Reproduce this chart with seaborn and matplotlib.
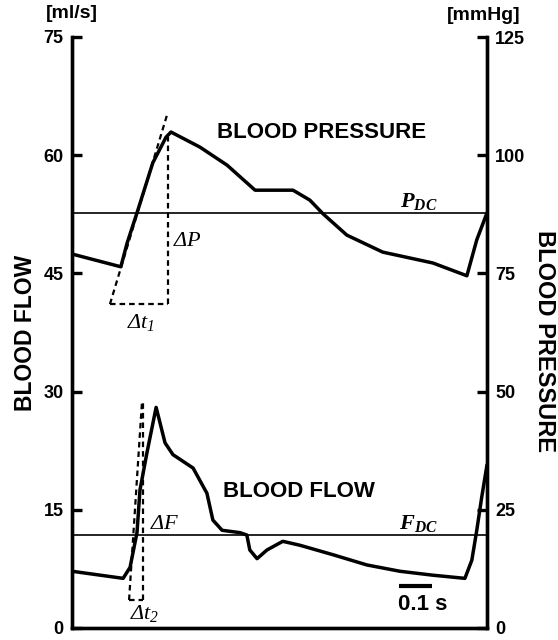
import matplotlib
matplotlib.use("Agg")
import matplotlib.pyplot as plt
import seaborn as sns
import pandas as pd
import numpy as np

# ---------------- data ----------------
# blood pressure trace (time in s, pressure in mmHg)
p_time = [0.000, 0.148, 0.167, 0.197, 0.245, 0.285, 0.300, 0.388, 0.470, 0.555,
          0.670, 0.721, 0.761, 0.833, 0.942, 1.094, 1.197, 1.227, 1.258]
p_vals = [79.1, 76.4, 81.4, 87.8, 98.4, 103.8, 104.9, 101.7, 97.9, 92.6,
          92.6, 90.5, 87.6, 83.1, 79.5, 77.2, 74.5, 82.1, 87.8]

# blood flow trace (time in s, flow in ml/s)
f_time = [0.000, 0.155, 0.176, 0.197, 0.206, 0.227, 0.255, 0.282, 0.306, 0.367,
          0.409, 0.427, 0.455, 0.509, 0.530, 0.539, 0.561, 0.591, 0.639, 0.691,
          0.791, 0.894, 0.994, 1.094, 1.191, 1.212, 1.227, 1.242, 1.258]
f_vals = [7.2, 6.3, 7.7, 12.1, 17.5, 22.2, 28.0, 23.5, 22.0, 20.3,
          17.1, 13.7, 12.4, 12.1, 11.8, 9.9, 8.8, 9.9, 11.0, 10.5,
          9.3, 8.0, 7.2, 6.7, 6.3, 8.6, 12.4, 16.6, 20.7]

p_dc = 87.8   # mmHg
f_dc = 11.8   # ml/s

# tangent construction for pressure (time, mmHg)
dp_slope_t = [0.115, 0.288]
dp_slope_v = [68.5, 108.5]
dp_vert_t = [0.291, 0.291]
dp_vert_v = [68.5, 103.8]
dp_base_t = [0.115, 0.291]
dp_base_v = [68.5, 68.5]

# tangent construction for flow (time, ml/s)
df_slope_t = [0.173, 0.176, 0.212]
df_slope_v = [3.55, 5.5, 28.6]
df_vert_t = [0.215, 0.215]
df_vert_v = [3.55, 28.6]
df_base_t = [0.173, 0.215]
df_base_v = [3.55, 3.55]

flow_ticks = [0, 15, 30, 45, 60, 75]
press_ticks = [0, 25, 50, 75, 100, 125]
scale_bar_t = [0.991, 1.091]
scale_bar_v = [5.33, 5.33]
t_max = 1.258

# ---------------- style ----------------
sns.set_theme(style="white")
plt.rcParams["font.family"] = ["Liberation Sans", "DejaVu Sans"]
plt.rcParams["text.color"] = "black"
plt.rcParams["axes.labelcolor"] = "black"
plt.rcParams["mathtext.fontset"] = "custom"
plt.rcParams["mathtext.it"] = "Liberation Serif:italic"
plt.rcParams["mathtext.rm"] = "Liberation Serif:italic"
plt.rcParams["mathtext.bf"] = "Liberation Serif:italic:bold"

fig = plt.figure(figsize=(5.58, 6.4), dpi=100)
ax = fig.add_axes([72 / 558, 12 / 640, 415 / 558, 591 / 640])
ax2 = ax.twinx()

df_p = pd.DataFrame({"t": p_time, "v": p_vals})
df_f = pd.DataFrame({"t": f_time, "v": f_vals})

sns.lineplot(data=df_f, x="t", y="v", ax=ax, color="black", lw=2.5,
             estimator=None, sort=False)
sns.lineplot(data=df_p, x="t", y="v", ax=ax2, color="black", lw=2.5,
             estimator=None, sort=False)

ax.axhline(f_dc, color="black", lw=1.2)
ax2.axhline(p_dc, color="black", lw=1.2)

dash = dict(color="black", lw=1.6, ls=(0, (2.5, 1.8)))
for tt, vv in [(dp_slope_t, dp_slope_v), (dp_vert_t, dp_vert_v), (dp_base_t, dp_base_v)]:
    ax2.plot(tt, vv, **dash)
for tt, vv in [(df_slope_t, df_slope_v), (df_vert_t, df_vert_v), (df_base_t, df_base_v)]:
    ax.plot(tt, vv, **dash)

ax.plot(scale_bar_t, scale_bar_v, color="black", lw=3.0, solid_capstyle="butt")

ax.set_xlim(0, t_max)
ax.set_ylim(0, 75)
ax2.set_ylim(0, 125)
ax.set_yticks(flow_ticks)
ax2.set_yticks(press_ticks)
ax.set_xticks([])
ax.set_xlabel("")
ax.set_ylabel("")
ax2.set_ylabel("")

tickfont = ["Liberation Sans Narrow", "Liberation Sans", "DejaVu Sans"]
for a in (ax, ax2):
    for s in a.spines.values():
        s.set_linewidth(2.4)
        s.set_color("black")
    a.spines["top"].set_visible(False)
    a.tick_params(axis="y", direction="in", length=7, width=2.4, pad=6,
                  labelsize=13, colors="black")
    for lab in a.get_yticklabels():
        lab.set_fontfamily(tickfont)
        lab.set_fontweight("bold")
ax.grid(False)
ax2.grid(False)

# unit labels
fig.text(72 / 558, 1 - 14 / 640, "[ml/s]", ha="center", va="center",
         fontsize=14, fontweight="bold")
fig.text(484 / 558, 1 - 15 / 640, "[mmHg]", ha="center", va="center",
         fontsize=14, fontweight="bold")

# side labels
fig.text(26 / 558, 1 - 333 / 640, "BLOOD FLOW", rotation=90, ha="center",
         va="center", fontsize=16.5, fontweight="bold")
fig.text(545 / 558, 1 - 341 / 640, "BLOOD PRESSURE", rotation=270, ha="center",
         va="center", fontsize=17, fontweight="bold")

# titles inside
ax.text(0.758, 62.9, "BLOOD PRESSURE", ha="center", va="center",
        fontsize=16, fontweight="bold")
ax.text(0.688, 17.3, "BLOOD FLOW", ha="center", va="center",
        fontsize=16, fontweight="bold")

# annotations
ax.text(0.306, 49.2, r"$\Delta P$", ha="left", va="center", fontsize=16)
ax.text(0.167, 38.8, r"$\Delta t_{1}$", ha="left", va="center", fontsize=16)
ax.text(0.236, 13.3, r"$\Delta F$", ha="left", va="center", fontsize=16)
ax.text(0.176, 1.9, r"$\Delta t_{2}$", ha="left", va="center", fontsize=16)
ax.text(0.994, 54.1, r"$\mathbf{P}_{\mathbf{DC}}$", ha="left", va="center", fontsize=16)
ax.text(0.991, 13.3, r"$\mathbf{F}_{\mathbf{DC}}$", ha="left", va="center", fontsize=16)

ax.text(1.062, 3.0, "0.1 s", ha="center", va="center", fontsize=16, fontweight="bold")

fig.savefig("out.png", dpi=100)
